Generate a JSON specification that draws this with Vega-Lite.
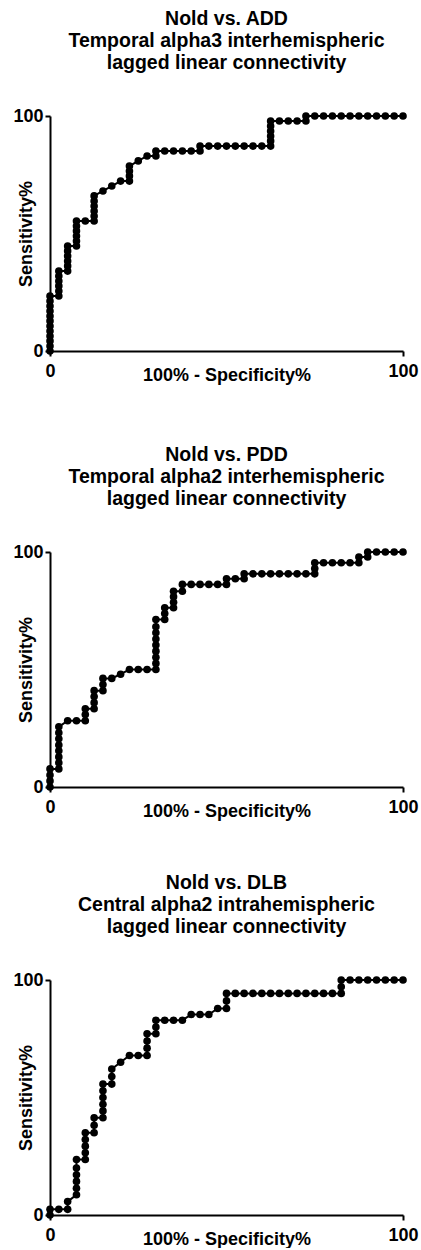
{
 "$schema": "https://vega.github.io/schema/vega-lite/v6.json",
 "padding": {"left": 12, "top": 8, "right": 2, "bottom": 0},
 "datasets": {
  "add": [{"i":1,"x":0,"y":0},{"i":2,"x":0,"y":2.1},{"i":3,"x":0,"y":4.3},{"i":4,"x":0,"y":6.4},{"i":5,"x":0,"y":8.5},{"i":6,"x":0,"y":10.6},{"i":7,"x":0,"y":12.8},{"i":8,"x":0,"y":14.9},{"i":9,"x":0,"y":17},{"i":10,"x":0,"y":19.1},{"i":11,"x":0,"y":21.3},{"i":12,"x":0,"y":23.4},{"i":13,"x":2.5,"y":23.4},{"i":14,"x":2.5,"y":25.5},{"i":15,"x":2.5,"y":27.7},{"i":16,"x":2.5,"y":29.8},{"i":17,"x":2.5,"y":31.9},{"i":18,"x":2.5,"y":34},{"i":19,"x":5,"y":34},{"i":20,"x":5,"y":36.2},{"i":21,"x":5,"y":38.3},{"i":22,"x":5,"y":40.4},{"i":23,"x":5,"y":42.6},{"i":24,"x":5,"y":44.7},{"i":25,"x":7.5,"y":44.7},{"i":26,"x":7.5,"y":46.8},{"i":27,"x":7.5,"y":48.9},{"i":28,"x":7.5,"y":51.1},{"i":29,"x":7.5,"y":53.2},{"i":30,"x":7.5,"y":55.3},{"i":31,"x":10,"y":55.3},{"i":32,"x":12.5,"y":55.3},{"i":33,"x":12.5,"y":57.4},{"i":34,"x":12.5,"y":59.6},{"i":35,"x":12.5,"y":61.7},{"i":36,"x":12.5,"y":63.8},{"i":37,"x":12.5,"y":66},{"i":38,"x":15,"y":68.1},{"i":39,"x":17.5,"y":70.2},{"i":40,"x":20,"y":72.3},{"i":41,"x":22.5,"y":72.3},{"i":42,"x":22.5,"y":74.5},{"i":43,"x":22.5,"y":76.6},{"i":44,"x":22.5,"y":78.7},{"i":45,"x":25,"y":80.9},{"i":46,"x":27.5,"y":83},{"i":47,"x":30,"y":83},{"i":48,"x":30,"y":85.1},{"i":49,"x":32.5,"y":85.1},{"i":50,"x":35,"y":85.1},{"i":51,"x":37.5,"y":85.1},{"i":52,"x":40,"y":85.1},{"i":53,"x":42.5,"y":85.1},{"i":54,"x":42.5,"y":87.2},{"i":55,"x":45,"y":87.2},{"i":56,"x":47.5,"y":87.2},{"i":57,"x":50,"y":87.2},{"i":58,"x":52.5,"y":87.2},{"i":59,"x":55,"y":87.2},{"i":60,"x":57.5,"y":87.2},{"i":61,"x":60,"y":87.2},{"i":62,"x":62.5,"y":87.2},{"i":63,"x":62.5,"y":89.4},{"i":64,"x":62.5,"y":91.5},{"i":65,"x":62.5,"y":93.6},{"i":66,"x":62.5,"y":95.7},{"i":67,"x":62.5,"y":97.9},{"i":68,"x":65,"y":97.9},{"i":69,"x":67.5,"y":97.9},{"i":70,"x":70,"y":97.9},{"i":71,"x":72.5,"y":97.9},{"i":72,"x":72.5,"y":100},{"i":73,"x":75,"y":100},{"i":74,"x":77.5,"y":100},{"i":75,"x":80,"y":100},{"i":76,"x":82.5,"y":100},{"i":77,"x":85,"y":100},{"i":78,"x":87.5,"y":100},{"i":79,"x":90,"y":100},{"i":80,"x":92.5,"y":100},{"i":81,"x":95,"y":100},{"i":82,"x":97.5,"y":100},{"i":83,"x":100,"y":100}],
  "pdd": [{"i":1,"x":0,"y":0},{"i":2,"x":0,"y":2.6},{"i":3,"x":0,"y":5.1},{"i":4,"x":0,"y":7.7},{"i":5,"x":2.5,"y":7.7},{"i":6,"x":2.5,"y":10.3},{"i":7,"x":2.5,"y":12.8},{"i":8,"x":2.5,"y":15.4},{"i":9,"x":2.5,"y":17.9},{"i":10,"x":2.5,"y":20.5},{"i":11,"x":2.5,"y":23.1},{"i":12,"x":2.5,"y":25.6},{"i":13,"x":5,"y":28.2},{"i":14,"x":7.5,"y":28.2},{"i":15,"x":10,"y":28.2},{"i":16,"x":10,"y":30.8},{"i":17,"x":10,"y":33.3},{"i":18,"x":12.5,"y":33.3},{"i":19,"x":12.5,"y":35.9},{"i":20,"x":12.5,"y":38.5},{"i":21,"x":12.5,"y":41},{"i":22,"x":15,"y":41},{"i":23,"x":15,"y":43.6},{"i":24,"x":15,"y":46.2},{"i":25,"x":17.5,"y":46.2},{"i":26,"x":20,"y":48},{"i":27,"x":22.5,"y":50},{"i":28,"x":25,"y":50},{"i":29,"x":27.5,"y":50},{"i":30,"x":30,"y":50},{"i":31,"x":30,"y":52.6},{"i":32,"x":30,"y":55.2},{"i":33,"x":30,"y":57.8},{"i":34,"x":30,"y":60.4},{"i":35,"x":30,"y":63},{"i":36,"x":30,"y":65.6},{"i":37,"x":30,"y":68.2},{"i":38,"x":30,"y":71.3},{"i":39,"x":32.5,"y":71.3},{"i":40,"x":32.5,"y":73.8},{"i":41,"x":32.5,"y":76.3},{"i":42,"x":35,"y":76.3},{"i":43,"x":35,"y":78.6},{"i":44,"x":35,"y":81},{"i":45,"x":35,"y":83.3},{"i":46,"x":37.5,"y":83.3},{"i":47,"x":37.5,"y":86.2},{"i":48,"x":40,"y":86.2},{"i":49,"x":42.5,"y":86.2},{"i":50,"x":45,"y":86.2},{"i":51,"x":47.5,"y":86.2},{"i":52,"x":50,"y":86.2},{"i":53,"x":50,"y":88.6},{"i":54,"x":52.5,"y":88.6},{"i":55,"x":55,"y":88.6},{"i":56,"x":55,"y":90.7},{"i":57,"x":57.5,"y":90.7},{"i":58,"x":60,"y":90.7},{"i":59,"x":62.5,"y":90.7},{"i":60,"x":65,"y":90.7},{"i":61,"x":67.5,"y":90.7},{"i":62,"x":70,"y":90.7},{"i":63,"x":72.5,"y":90.7},{"i":64,"x":75,"y":90.7},{"i":65,"x":75,"y":93},{"i":66,"x":75,"y":95.4},{"i":67,"x":77.5,"y":95.4},{"i":68,"x":80,"y":95.4},{"i":69,"x":82.5,"y":95.4},{"i":70,"x":85,"y":95.4},{"i":71,"x":87.5,"y":95.4},{"i":72,"x":87.5,"y":97.9},{"i":73,"x":90,"y":97.9},{"i":74,"x":90,"y":100},{"i":75,"x":92.5,"y":100},{"i":76,"x":95,"y":100},{"i":77,"x":97.5,"y":100},{"i":78,"x":100,"y":100}],
  "dlb": [{"i":1,"x":0,"y":0},{"i":2,"x":0,"y":2.4},{"i":3,"x":2.5,"y":2.4},{"i":4,"x":5,"y":2.4},{"i":5,"x":5,"y":5.7},{"i":6,"x":7.5,"y":8.6},{"i":7,"x":7.5,"y":11.4},{"i":8,"x":7.5,"y":14.3},{"i":9,"x":7.5,"y":17.1},{"i":10,"x":7.5,"y":20},{"i":11,"x":7.5,"y":23.6},{"i":12,"x":10,"y":23.6},{"i":13,"x":10,"y":26.5},{"i":14,"x":10,"y":29.3},{"i":15,"x":10,"y":32.1},{"i":16,"x":10,"y":35},{"i":17,"x":12.5,"y":35},{"i":18,"x":12.5,"y":38.2},{"i":19,"x":12.5,"y":41.4},{"i":20,"x":15,"y":41.4},{"i":21,"x":15,"y":44.3},{"i":22,"x":15,"y":47.1},{"i":23,"x":15,"y":50},{"i":24,"x":15,"y":52.9},{"i":25,"x":15,"y":55.7},{"i":26,"x":17.5,"y":55.7},{"i":27,"x":17.5,"y":58.9},{"i":28,"x":17.5,"y":62.1},{"i":29,"x":20,"y":65},{"i":30,"x":22.5,"y":67.9},{"i":31,"x":25,"y":67.9},{"i":32,"x":27.5,"y":67.9},{"i":33,"x":27.5,"y":71},{"i":34,"x":27.5,"y":74},{"i":35,"x":27.5,"y":77.1},{"i":36,"x":30,"y":77.1},{"i":37,"x":30,"y":80},{"i":38,"x":30,"y":82.9},{"i":39,"x":32.5,"y":82.9},{"i":40,"x":35,"y":82.9},{"i":41,"x":37.5,"y":82.9},{"i":42,"x":40,"y":85.3},{"i":43,"x":42.5,"y":85.3},{"i":44,"x":45,"y":85.3},{"i":45,"x":47.5,"y":87.9},{"i":46,"x":50,"y":87.9},{"i":47,"x":50,"y":91.1},{"i":48,"x":50,"y":94.3},{"i":49,"x":52.5,"y":94.3},{"i":50,"x":55,"y":94.3},{"i":51,"x":57.5,"y":94.3},{"i":52,"x":60,"y":94.3},{"i":53,"x":62.5,"y":94.3},{"i":54,"x":65,"y":94.3},{"i":55,"x":67.5,"y":94.3},{"i":56,"x":70,"y":94.3},{"i":57,"x":72.5,"y":94.3},{"i":58,"x":75,"y":94.3},{"i":59,"x":77.5,"y":94.3},{"i":60,"x":80,"y":94.3},{"i":61,"x":82.5,"y":94.3},{"i":62,"x":82.5,"y":97.1},{"i":63,"x":82.5,"y":100},{"i":64,"x":85,"y":100},{"i":65,"x":87.5,"y":100},{"i":66,"x":90,"y":100},{"i":67,"x":92.5,"y":100},{"i":68,"x":95,"y":100},{"i":69,"x":97.5,"y":100},{"i":70,"x":100,"y":100}]
 },
 "config": {
  "view": {"stroke": null},
  "font": "Liberation Sans",
  "axis": {"grid": false, "domainColor": "black", "domainWidth": 2, "tickColor": "black", "tickWidth": 2, "tickSize": 5,
           "labelFont": "Liberation Sans", "labelFontSize": 18, "labelFontWeight": "bold", "labelColor": "black",
           "titleFont": "Liberation Sans", "titleFontSize": 18, "titleFontWeight": "bold", "titleColor": "black"},
  "axisX": {"labelFlush": false, "labelBaseline": "alphabetic", "labelPadding": 20, "titleY": 29, "titleBaseline": "alphabetic"},
  "axisY": {"labelPadding": 2, "titleX": -18.5, "titleBaseline": "alphabetic"},
  "title": {"fontSize": 19.5, "fontWeight": "bold", "color": "black", "lineHeight": 22, "font": "Liberation Sans", "offset": 34, "frame": "group", "anchor": "middle"}
 },
 "spacing": 60,
 "vconcat": [
  {
   "width": 353, "height": 235,
   "title": {"text": ["Nold vs. ADD", "Temporal alpha3 interhemispheric", "lagged linear connectivity"]},
   "data": {"name": "add"},
   "encoding": {
    "x": {"field": "x", "type": "quantitative", "scale": {"domain": [0, 100], "nice": false}, "axis": {"values": [0, 100], "title": "100% - Specificity%"}},
    "y": {"field": "y", "type": "quantitative", "scale": {"domain": [0, 100], "nice": false}, "axis": {"values": [0, 100], "title": "Sensitivity%"}},
    "order": {"field": "i", "type": "quantitative"}
   },
   "layer": [
    {"mark": {"type": "line", "color": "black", "strokeWidth": 2}},
    {"mark": {"type": "point", "filled": true, "size": 58, "color": "black", "opacity": 1}}
   ]
  },
  {
   "spacing": 52,
   "vconcat": [
    {
     "width": 353, "height": 235,
     "title": {"text": ["Nold vs. PDD", "Temporal alpha2  interhemispheric", "lagged linear connectivity"]},
     "data": {"name": "pdd"},
     "encoding": {
      "x": {"field": "x", "type": "quantitative", "scale": {"domain": [0, 100], "nice": false}, "axis": {"values": [0, 100], "title": "100% - Specificity%"}},
      "y": {"field": "y", "type": "quantitative", "scale": {"domain": [0, 100], "nice": false}, "axis": {"values": [0, 100], "title": "Sensitivity%"}},
      "order": {"field": "i", "type": "quantitative"}
     },
     "layer": [
      {"mark": {"type": "line", "color": "black", "strokeWidth": 2}},
      {"mark": {"type": "point", "filled": true, "size": 58, "color": "black", "opacity": 1}}
     ]
    },
    {
     "width": 353, "height": 235,
     "title": {"text": ["Nold vs. DLB", "Central alpha2  intrahemispheric", "lagged linear connectivity"]},
     "data": {"name": "dlb"},
     "encoding": {
      "x": {"field": "x", "type": "quantitative", "scale": {"domain": [0, 100], "nice": false}, "axis": {"values": [0, 100], "title": "100% - Specificity%"}},
      "y": {"field": "y", "type": "quantitative", "scale": {"domain": [0, 100], "nice": false}, "axis": {"values": [0, 100], "title": "Sensitivity%"}},
      "order": {"field": "i", "type": "quantitative"}
     },
     "layer": [
      {"mark": {"type": "line", "color": "black", "strokeWidth": 2}},
      {"mark": {"type": "point", "filled": true, "size": 58, "color": "black", "opacity": 1}}
     ]
    }
   ]
  }
 ]
}
